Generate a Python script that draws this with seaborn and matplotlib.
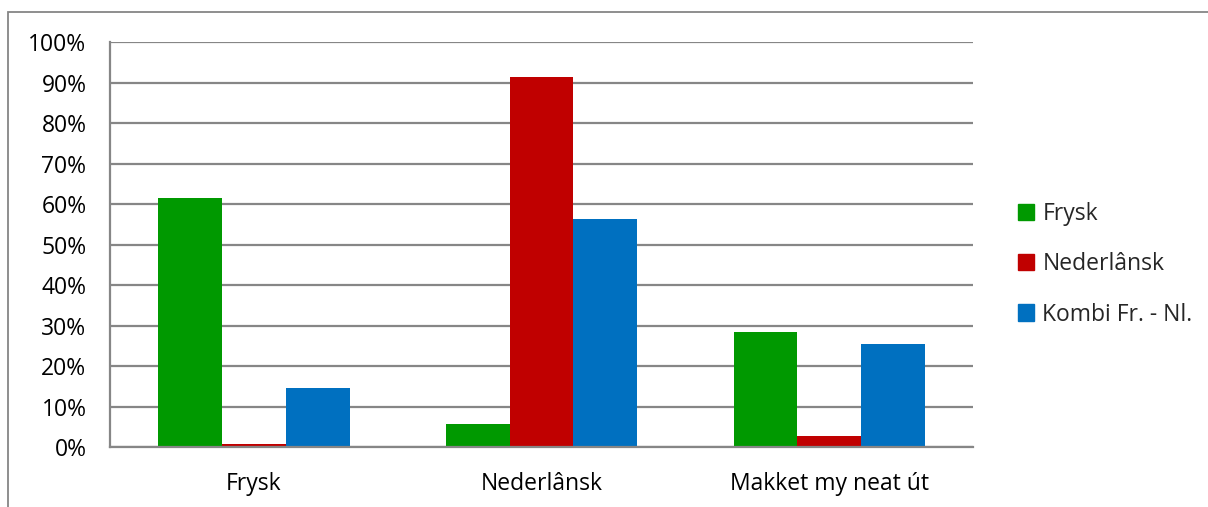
import pandas as pd
import matplotlib.pyplot as plt
import matplotlib.patches as mpatches
from matplotlib.ticker import PercentFormatter
import seaborn as sns

# language answers per group (share of respondents)
categories = ["Frysk", "Nederlânsk", "Makket my neat út"]
series = ["Frysk", "Nederlânsk", "Kombi Fr. - Nl."]
frysk = [0.615, 0.058, 0.286]
nederlansk = [0.009, 0.913, 0.028]
kombi = [0.147, 0.563, 0.254]
colors = ["#009900", "#C00000", "#0070C0"]

df = pd.DataFrame({
    "category": categories * 3,
    "series": [series[0]] * 3 + [series[1]] * 3 + [series[2]] * 3,
    "value": frysk + nederlansk + kombi,
})

sns.set_style("white")
plt.rcParams["font.family"] = ["Open Sans", "DejaVu Sans"]

fig = plt.figure(figsize=(12.08, 5.07), dpi=100)
ax = fig.add_axes([0.0911, 0.1174, 0.7144, 0.7998])

sns.barplot(data=df, x="category", y="value", hue="series",
            order=categories, hue_order=series, palette=colors,
            saturation=1, width=0.665, gap=0, linewidth=0, ax=ax)

ax.set_xlim(-0.5, 2.5)
ax.set_ylim(0, 1)
ax.set_yticks([i / 10 for i in range(11)])
ax.yaxis.set_major_formatter(PercentFormatter(1.0, decimals=0))
ax.grid(axis="y", color="#868686", linewidth=1.6)
ax.set_axisbelow(True)
ax.set_xlabel("")
ax.set_ylabel("")
ax.tick_params(axis="both", length=0, labelsize=16.5, colors="black")
ax.tick_params(axis="x", pad=18)
ax.tick_params(axis="y", pad=17)
for side in ["top", "right"]:
    ax.spines[side].set_visible(False)
for side in ["left", "bottom"]:
    ax.spines[side].set_color("#868686")
    ax.spines[side].set_linewidth(1.6)

handles = [mpatches.Patch(color=c, label=s) for c, s in zip(colors, series)]
ax.get_legend().remove()
fig.legend(handles=handles, loc="center left", bbox_to_anchor=(0.826, 0.479),
           frameon=False, fontsize=16.5, handlelength=0.7, handleheight=0.7,
           handletextpad=0.35, labelspacing=1.15)

# outer chart border
fig.patches.append(mpatches.Rectangle((8 / 1208, -0.01), 1.1, 1 - 12 / 507 + 0.01,
                                      transform=fig.transFigure, fill=False,
                                      edgecolor="#868686", linewidth=1.3))

fig.savefig("out.png", dpi=100)
